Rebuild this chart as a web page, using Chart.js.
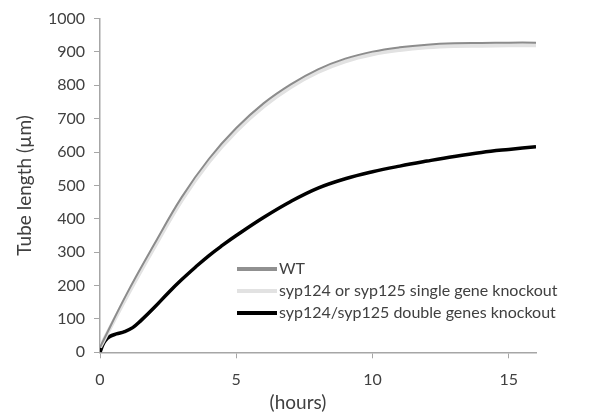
<!DOCTYPE html>
<html>
<head>
<meta charset="utf-8">
<script src="https://cdn.jsdelivr.net/npm/chart.js@4/dist/chart.umd.min.js"></script>
<style>
  body { margin: 0; background: #fff; }
  #wrap { width: 598px; height: 415px; position: relative; }
</style>
</head>
<body>
<div id="wrap"><canvas id="tubeChart"></canvas></div>
<script>
// ---------- DATA ----------
const hours = [0, 1, 2, 3, 4, 5, 6, 7, 8, 9, 10, 11, 12, 13, 14, 15, 16];
const wtLength = [15, 178, 325, 465, 580, 672, 746, 803, 848, 880, 901, 914, 922, 926, 927, 928, 928];
const singleLength = [15, 170, 316, 456, 571, 663, 737, 795, 840, 872, 893, 906, 914, 918, 919, 920, 920];

const doubleHours = [0, 0.1, 0.2, 0.35, 0.6, 0.9, 1.2, 1.5, 2, 2.5, 3, 3.5, 4, 4.5, 5, 6, 7, 8, 9, 10, 11, 12, 13, 14, 15, 16];
const doubleLength = [0, 22, 36, 47, 55, 62, 74, 95, 135, 178, 218, 255, 290, 321, 350, 404, 452, 492, 520, 541, 558, 573, 587, 599, 608, 616];

const seriesLabels = ["WT", "syp124 or syp125 single gene knockout", "syp124/syp125 double genes knockout"];
const xTitle = "(hours)";
const yTitle = "Tube length (\u00b5m)";

const FONT = "Lato, 'Open Sans', sans-serif";
const AXIS_GRAY = "#a6a6a6";
const TEXT_COL = "#404040";

function toPoints(xs, ys) {
    return xs.map((x, i) => ({ x: x, y: ys[i] }));
}

// ---------- LEGEND + X TITLE ----------
const inPlotLegend = {
    id: "inPlotLegend",
    afterDraw(chart) {
        const ctx = chart.ctx;
        ctx.save();
        ctx.font = "16px " + FONT;
        ctx.fillStyle = TEXT_COL;
        ctx.textBaseline = "middle";
        chart.data.datasets.forEach((ds, i) => {
            const y = 269 + i * 22;
            ctx.strokeStyle = ds.legendColor || ds.borderColor;
            ctx.lineWidth = 4;
            ctx.beginPath();
            ctx.moveTo(237, y);
            ctx.lineTo(277, y);
            ctx.stroke();
            ctx.fillText(ds.label, 279, y);
        });
        // x axis title, Excel puts it a bit left of the axis centre
        ctx.font = "19px " + FONT;
        ctx.textAlign = "center";
        ctx.fillText(xTitle, 298, 403);
        ctx.restore();
    }
};

// ---------- CHART ----------
const chart = new Chart(document.getElementById("tubeChart"), {
    type: "line",
    data: {
        datasets: [
            { label: seriesLabels[0], data: toPoints(hours, wtLength),
              borderColor: "#8c8c8c", legendColor: "#909090", borderWidth: 2 },
            { label: seriesLabels[1], data: toPoints(hours, singleLength),
              borderColor: "#e2e2e2", borderWidth: 4 },
            { label: seriesLabels[2], data: toPoints(doubleHours, doubleLength),
              borderColor: "#000000", borderWidth: 3.5 }
        ]
    },
    options: {
        responsive: true,
        maintainAspectRatio: false,
        animation: false,
        layout: { padding: { top: 18, right: 62, left: 0, bottom: 0 } },
        elements: {
            point: { radius: 0 },
            line: { tension: 0.4, fill: false }
        },
        plugins: {
            legend: { display: false },
            tooltip: { enabled: false }
        },
        scales: {
            x: {
                type: "linear",
                min: 0,
                max: 16,
                afterFit(scale) { scale.height = 62.7; },
                ticks: {
                    stepSize: 5,
                    includeBounds: false,
                    padding: 12,
                    color: TEXT_COL,
                    font: { family: FONT, size: 16 },
                    maxRotation: 0
                },
                grid: { drawOnChartArea: false, drawTicks: true, tickLength: 6, color: AXIS_GRAY },
                border: { color: AXIS_GRAY, width: 1.5 }
            },
            y: {
                min: 0,
                max: 1000,
                afterFit(scale) { scale.width = 100; },
                ticks: {
                    stepSize: 100,
                    padding: 9,
                    color: TEXT_COL,
                    font: { family: FONT, size: 16 },
                    callback: (v) => String(v)
                },
                grid: { drawOnChartArea: false, drawTicks: true, tickLength: 6, color: AXIS_GRAY },
                border: { color: AXIS_GRAY, width: 1.5 },
                title: {
                    display: true,
                    text: yTitle,
                    color: TEXT_COL,
                    font: { family: FONT, size: 19 },
                    padding: { top: 13, bottom: 0 }
                }
            }
        }
    },
    plugins: [inPlotLegend]
});
</script>
</body>
</html>
